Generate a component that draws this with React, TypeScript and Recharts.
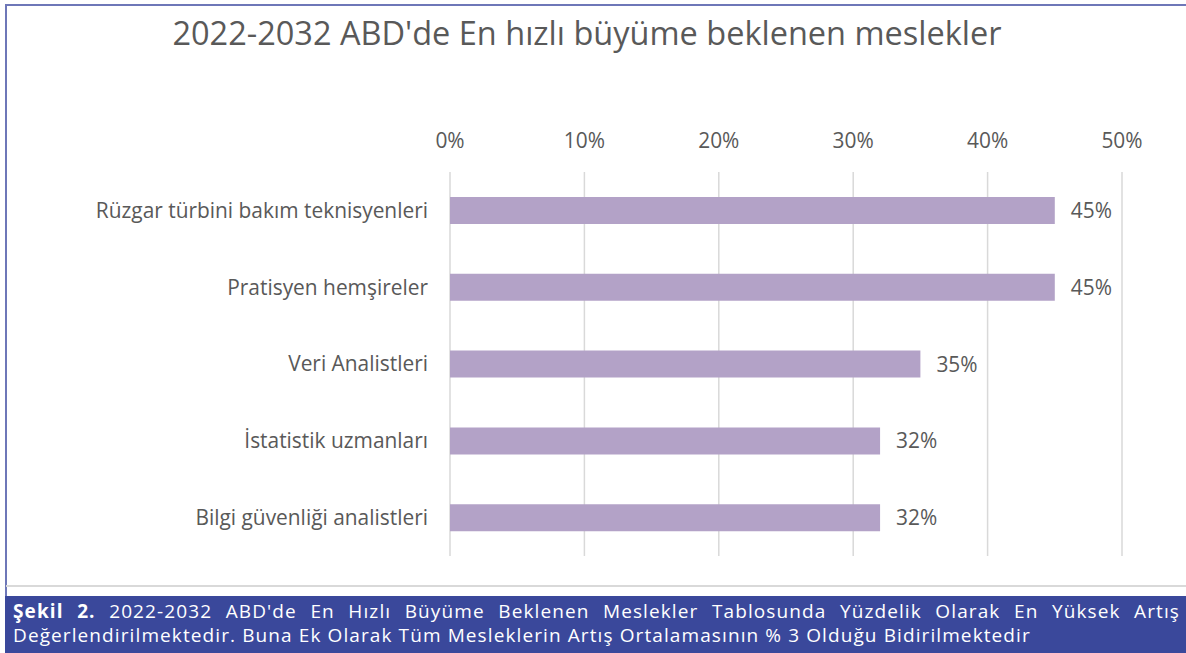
import React from "react";
import { BarChart, Bar, XAxis, YAxis, CartesianGrid, LabelList } from "recharts";

const categories = [
  "Rüzgar türbini bakım teknisyenleri",
  "Pratisyen hemşireler",
  "Veri Analistleri",
  "İstatistik uzmanları",
  "Bilgi güvenliği analistleri",
];
const growth = [0.45, 0.45, 0.35, 0.32, 0.32];
const xTicks = [0, 0.1, 0.2, 0.3, 0.4, 0.5];

const title = "2022-2032 ABD'de En hızlı büyüme beklenen meslekler";
const captionBold = "Şekil 2.";
const captionLine1 =
  " 2022-2032 ABD'de En Hızlı Büyüme Beklenen Meslekler Tablosunda Yüzdelik Olarak En Yüksek Artış";
const captionLine2 =
  "Değerlendirilmektedir. Buna Ek Olarak Tüm Mesleklerin Artış Ortalamasının % 3 Olduğu Bidirilmektedir";

const data = categories.map((name, i) => ({ name, value: growth[i] }));

const FONT = "'Open Sans', sans-serif";
const TXT = "#595959";
const FS = 20.9;
const pct = (v: number) => `${Math.round(v * 100)}%`;

export default function App() {
  return (
    <div
      style={{
        position: "fixed",
        left: 0,
        top: 0,
        width: 1186,
        height: 653,
        background: "#fff",
        overflow: "hidden",
        fontFamily: FONT,
      }}
    >
      <div
        style={{
          position: "absolute",
          left: 5,
          top: 4,
          width: 1200,
          height: 600,
          borderLeft: "2px solid #6e77b8",
          borderTop: "2px solid #6e77b8",
          boxSizing: "border-box",
        }}
      />
      <div
        style={{
          position: "absolute",
          left: 0,
          width: 1174,
          top: 13,
          textAlign: "center",
          fontSize: 32.5,
          color: TXT,
          lineHeight: "40px",
          whiteSpace: "nowrap",
        }}
      >
        {title}
      </div>
      <div style={{ position: "absolute", left: 0, top: 0 }}>
        <BarChart
          width={1186}
          height={586}
          data={data}
          layout="vertical"
          margin={{ top: 0, right: 64, bottom: 30, left: 0 }}
          barCategoryGap={0}
        >
          <CartesianGrid horizontal={false} stroke="#d9d9d9" strokeWidth={1.5} />
          <XAxis
            type="number"
            orientation="top"
            domain={[0, 0.5]}
            ticks={xTicks}
            tickFormatter={pct}
            axisLine={false}
            tickLine={false}
            tickSize={0}
            tickMargin={24}
            height={172}
            tick={{ fill: TXT, fontSize: FS, fontFamily: FONT }}
            interval={0}
          />
          <YAxis
            type="category"
            dataKey="name"
            width={450}
            axisLine={false}
            tickLine={false}
            tickSize={0}
            tickMargin={22}
            tick={{ fill: TXT, fontSize: FS, fontFamily: FONT }}
            interval={0}
          />
          <Bar dataKey="value" fill="#b3a2c7" barSize={27} isAnimationActive={false}>
            <LabelList
              dataKey="value"
              position="right"
              offset={16}
              formatter={(v: any) => pct(Number(v))}
              style={{ fill: TXT, fontSize: FS, fontFamily: FONT }}
            />
          </Bar>
        </BarChart>
      </div>
      <div
        style={{
          position: "absolute",
          left: 6,
          top: 585,
          width: 1180,
          height: 2,
          background: "#d9d9d9",
        }}
      />
      <div
        style={{
          position: "absolute",
          left: 5,
          top: 596,
          width: 1181,
          height: 57,
          background: "#3a489b",
          color: "#fff",
          boxSizing: "border-box",
          padding: "2.7px 6px 0 8px",
          fontSize: 19,
          lineHeight: "24px",
          letterSpacing: 1.1,
          overflow: "hidden",
        }}
      >
        <div style={{ textAlign: "justify", textAlignLast: "justify", whiteSpace: "nowrap" }}>
          <span style={{ whiteSpace: "normal" }}>
            <b>{captionBold}</b>
            {captionLine1}
          </span>
        </div>
        <div style={{ textAlign: "left", whiteSpace: "nowrap" }}>{captionLine2}</div>
      </div>
    </div>
  );
}
